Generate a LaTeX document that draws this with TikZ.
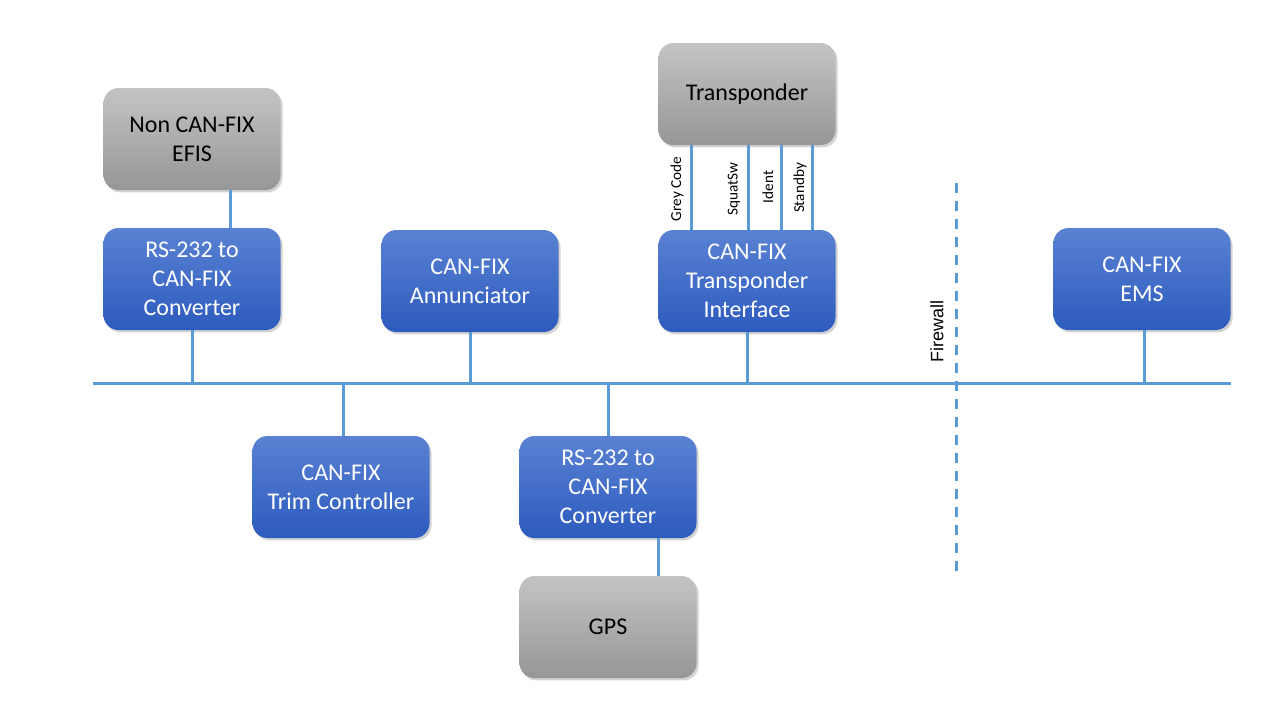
\documentclass[tikz,border=0pt]{standalone}
\usepackage{fontspec}
\setmainfont{Carlito}
\newfontfamily\firewallfont{Liberation Sans}
\usetikzlibrary{positioning,shadows}

\definecolor{busblue}{HTML}{5B9BD5}
\definecolor{boxtop}{HTML}{5A82D3}
\definecolor{boxbot}{HTML}{2D5BBE}
\definecolor{greytop}{HTML}{C4C4C4}
\definecolor{greybot}{HTML}{969696}

\begin{document}
\begin{tikzpicture}[x=0.5pt,y=-0.5pt,
    nodebox/.style={rounded corners=7.5pt, minimum width=88.5pt, minimum height=51pt,
      align=center, font=\fontsize{12}{14.5}\selectfont,
      drop shadow={opacity=0.35, shadow xshift=1pt, shadow yshift=-1.2pt}},
    canbox/.style={nodebox, top color=boxtop, bottom color=boxbot, text=white},
    extbox/.style={nodebox, top color=greytop, bottom color=greybot, text=black},
    wire/.style={draw=busblue, line width=1.5pt},
    siglabel/.style={rotate=90, font=\fontsize{7.6}{9}\selectfont, inner sep=0pt}]
    \useasboundingbox[fill=white] (0,0) rectangle (1280,720);

    % bus
    \coordinate (busL) at (93,383);
    \coordinate (busR) at (1231,383);

    \node[extbox] (efis) at (192,139) {Non CAN-FIX\\EFIS};
    \node[canbox] (convA) at (192,279) {RS-232 to\\CAN-FIX\\Converter};
    \node[canbox] (annun) at (470,281) {CAN-FIX\\Annunciator};
    \node[extbox] (xpdr) at (747,94) {Transponder};
    \node[canbox] (xpdrif) at (747,281) {CAN-FIX\\Transponder\\Interface};
    \node[canbox] (ems) at (1142,279) {CAN-FIX\\EMS};
    \node[canbox] (trim) at (341,487) {CAN-FIX\\Trim Controller};
    \node[canbox] (convB) at (608,487) {RS-232 to\\CAN-FIX\\Converter};
    \node[extbox] (gps) at (608,627) {GPS};

    % firewall
    \coordinate (fwT) at (956,183);
    \coordinate (fwB) at (956,575);
    \draw[busblue, line width=1.5pt, dash pattern=on 5pt off 4pt] (fwT) -- (fwB);
    \node[rotate=90, font=\firewallfont\fontsize{9}{10}\selectfont] (fwlabel) at (937,331) {Firewall};

    \draw[wire] (busL) -- (busR);

    % drops to the bus
    \draw[wire] (convA.south) -- (convA.south |- busL);
    \draw[wire] (annun.south) -- (annun.south |- busL);
    \draw[wire] (xpdrif.south) -- (xpdrif.south |- busL);
    \draw[wire] ([xshift=1pt]ems.south) -- ([xshift=1pt]ems.south |- busL);
    \draw[wire] ([xshift=1pt]trim.north) -- ([xshift=1pt]trim.north |- busL);
    \draw[wire] (convB.north) -- (convB.north |- busL);

    % serial links
    \draw[wire] ([xshift=19pt]efis.south) -- ([xshift=19pt]convA.north);
    \draw[wire] ([xshift=25pt]convB.south) -- ([xshift=25pt]gps.north);

    % transponder signals
    \draw[wire] ([xshift=-28pt]xpdr.south) -- ([xshift=-28pt]xpdrif.north);
    \draw[wire] ([xshift=0.5pt]xpdr.south) -- ([xshift=0.5pt]xpdrif.north);
    \draw[wire] ([xshift=17pt]xpdr.south) -- ([xshift=17pt]xpdrif.north);
    \draw[wire] ([xshift=32.5pt]xpdr.south) -- ([xshift=32.5pt]xpdrif.north);
    \node[siglabel] (grey) at (677,189) {Grey Code};
    \node[siglabel] (squat) at (734,189) {SquatSw};
    \node[siglabel] (ident) at (768,187) {Ident};
    \node[siglabel] (stby) at (800,188) {Standby};
\end{tikzpicture}
\end{document}
